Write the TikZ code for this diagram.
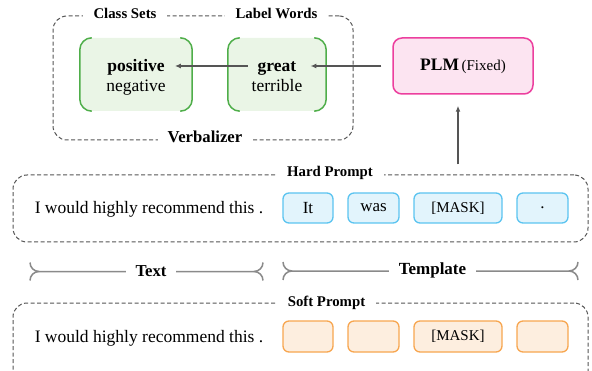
\documentclass[tikz,border=0pt]{standalone}
\usepackage{fontspec}
\setmainfont{Liberation Serif}
\usetikzlibrary{calc,arrows.meta}
\definecolor{dgray}{HTML}{555555}
\definecolor{bgray}{HTML}{8A8A8A}
\definecolor{gline}{HTML}{4FAE4A}
\definecolor{gfill}{HTML}{EAF5E6}
\definecolor{pline}{HTML}{EC3F9E}
\definecolor{pfill}{HTML}{FCE4F1}
\definecolor{bline}{HTML}{5BC4F0}
\definecolor{bfill}{HTML}{E2F4FC}
\definecolor{oline}{HTML}{F7A650}
\definecolor{ofill}{HTML}{FDEEDF}
\tikzset{
  dashbox/.style={draw=dgray, dash pattern=on 4pt off 2.5pt, line width=1pt, rounded corners=14pt, inner sep=0pt},
  lbl/.style={fill=white, inner xsep=11pt, inner ysep=1pt, font=\bfseries\fontsize{14.8}{16}\selectfont},
  biglbl/.style={fill=white, inner xsep=10pt, inner ysep=1pt, font=\bfseries\fontsize{16.7}{18}\selectfont},
  gbox/.style={fill=gfill, rounded corners=12pt, minimum height=73pt, inner sep=0pt},
  gside/.style={draw=gline, line width=1.5pt, rounded corners=12pt},
  wtext/.style={inner sep=0pt, font=\fontsize{17.5}{20}\selectfont},
  bwtext/.style={inner sep=0pt, font=\bfseries\fontsize{17.5}{20}\selectfont},
  plmbox/.style={draw=pline, fill=pfill, line width=1.5pt, rounded corners=9pt, minimum width=140pt, minimum height=56pt, inner sep=0pt},
  hbox/.style={draw=bline, fill=bfill, line width=1.3pt, rounded corners=6pt, minimum height=30pt, inner sep=0pt, font=\fontsize{17}{20}\selectfont},
  sbox/.style={draw=oline, fill=ofill, line width=1.3pt, rounded corners=6pt, minimum height=31pt, inner sep=0pt, font=\fontsize{17}{20}\selectfont},
  arr/.style={draw=dgray, line width=1.2pt, -{Latex[length=6pt,width=5pt]}},
  bracesty/.style={draw=bgray, line width=1.5pt},
}
\begin{document}
\begin{tikzpicture}[x=1pt,y=1pt]
\useasboundingbox (0,0) rectangle (592,370);
\clip (0,0) rectangle (592,370);

% Verbalizer
\node[dashbox, minimum width=300pt, minimum height=124pt] (verb) at (203,292) {};
\node[lbl] (cls) at (125,357) {Class Sets};
\node[lbl] (lw) at (276.5,357) {Label Words};
\node[biglbl] (vlbl) at (205,233.5) {Verbalizer};

% green boxes
\node[gbox, minimum width=112pt] (g1) at (136,295.5) {};
\draw[gside] ([xshift=12pt]g1.north west) -- (g1.north west) -- (g1.south west) -- ([xshift=12pt]g1.south west);
\draw[gside] ([xshift=-12pt]g1.north east) -- (g1.north east) -- (g1.south east) -- ([xshift=-12pt]g1.south east);
\node[bwtext, anchor=base] (pos) at (136,298) {positive};
\node[wtext, anchor=base] (neg) at (136,278) {negative};

\node[gbox, minimum width=98pt] (g2) at (277,295.5) {};
\draw[gside] ([xshift=12pt]g2.north west) -- (g2.north west) -- (g2.south west) -- ([xshift=12pt]g2.south west);
\draw[gside] ([xshift=-12pt]g2.north east) -- (g2.north east) -- (g2.south east) -- ([xshift=-12pt]g2.south east);
\node[bwtext, anchor=base] (great) at (277,298) {great};
\node[wtext, anchor=base] (terr) at (277,278) {terrible};

% PLM
\node[plmbox] (plm) at (463,304) {{\bfseries\fontsize{17.5}{20}\selectfont PLM} {\fontsize{15}{18}\selectfont(Fixed)}};

% Hard prompt
\node[dashbox, minimum width=575pt, minimum height=67pt] (hard) at (300.5,161.5) {};
\node[lbl, anchor=base] (hlbl) at (330,193) {Hard Prompt};
\node[wtext, anchor=base] (htext) at (149,157) {I would highly recommend this .};
\node[hbox, minimum width=50pt] (h1) at (308,162) {It};
\node[hbox, minimum width=51pt] (h2) at (373.5,162) {was};
\node[hbox, minimum width=88pt, font=\fontsize{15}{18}\selectfont] (h3) at (458,162) {[MASK]};
\node[hbox, minimum width=51pt] (h4) at (542.5,162) {.};

% arrows
\draw[arr] ($(plm.west)+(-11,0)$) -- ($(great.east |- plm.west)+(14,0)$);
\draw[arr] ($(great.west |- plm.west)+(-10,0)$) -- ($(pos.east |- plm.west)+(10,0)$);
\draw[arr] ($(plm.south |- hard.north)+(-5,10)$) -- ($(plm.south)+(-5,-11)$);

% braces
\coordinate (ta) at (30,98.5);
\coordinate (tb) at (263,98.5);
\draw[bracesty] ($(ta)+(0,9)$) arc[start angle=180,end angle=270,radius=9pt] -- ($(tb)+(-9,0)$) arc[start angle=-90,end angle=0,radius=9pt];
\draw[bracesty] ($(ta)+(0,-9)$) arc[start angle=180,end angle=90,radius=9pt];
\draw[bracesty] ($(tb)+(0,-9)$) arc[start angle=0,end angle=90,radius=9pt];
\node[biglbl, anchor=base] (tlbl) at (151,94) {Text};

\coordinate (pa) at (283,99);
\coordinate (pb) at (578,99);
\draw[bracesty] ($(pa)+(0,9)$) arc[start angle=180,end angle=270,radius=9pt] -- ($(pb)+(-9,0)$) arc[start angle=-90,end angle=0,radius=9pt];
\draw[bracesty] ($(pa)+(0,-9)$) arc[start angle=180,end angle=90,radius=9pt];
\draw[bracesty] ($(pb)+(0,-9)$) arc[start angle=0,end angle=90,radius=9pt];
\node[biglbl, anchor=base, font=\bfseries\fontsize{17}{18}\selectfont] (plbl) at (432.5,95.5) {Template};

% Soft prompt
\node[dashbox, minimum width=575pt, minimum height=87pt] (soft) at (300.5,23.5) {};
\node[lbl, anchor=base] (slbl) at (326.5,64) {Soft Prompt};
\node[wtext, anchor=base] (stext) at (149,28) {I would highly recommend this .};
\node[sbox, minimum width=50pt] (s1) at (308,33.5) {};
\node[sbox, minimum width=51pt] (s2) at (373.5,33.5) {};
\node[sbox, minimum width=88pt, font=\fontsize{15}{18}\selectfont] (s3) at (458,33.5) {[MASK]};
\node[sbox, minimum width=51pt] (s4) at (542.5,33.5) {};
\end{tikzpicture}
\end{document}
